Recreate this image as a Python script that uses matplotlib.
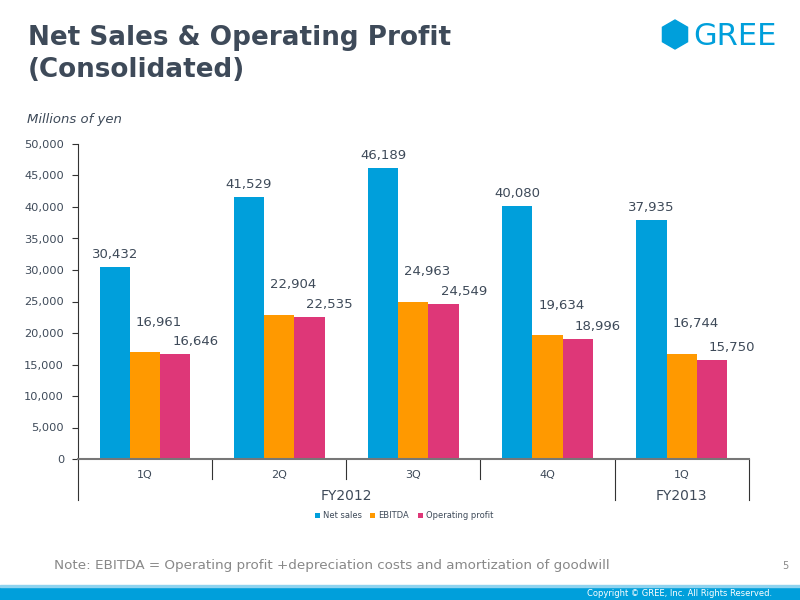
import numpy as np
import matplotlib.pyplot as plt
from matplotlib.patches import Polygon, Rectangle
from matplotlib.ticker import FuncFormatter

# quarterly figures, millions of yen
quarters = ['1Q', '2Q', '3Q', '4Q', '1Q']
years = ['FY2012', 'FY2013']
net_sales = [30432, 41529, 46189, 40080, 37935]
ebitda = [16961, 22904, 24963, 19634, 16744]
op_profit = [16646, 22535, 24549, 18996, 15750]
series_names = ['Net sales', 'EBITDA', 'Operating profit']
colors = ['#009fdb', '#ff9900', '#de3778']

text_col = '#3e4a59'

fig = plt.figure(figsize=(8, 6), dpi=100)
ax = fig.add_axes([0.0975, 0.235, 0.8385, 0.525])

x = np.arange(len(quarters))
w = 0.225
# data-label offsets (points) per series, like the original slide
offsets = [(0, 4.5), (10, 17), (14.5, 4.5)]
for i, (vals, name, c) in enumerate(zip([net_sales, ebitda, op_profit], series_names, colors)):
    xs = x + (i - 1) * w
    ax.bar(xs, vals, w, color=c, label=name)
    for xi, v in zip(xs, vals):
        ax.annotate(f'{v:,}', (xi, v), xytext=offsets[i], textcoords='offset points',
                    ha='center', va='bottom', fontsize=9.5, color=text_col)

ax.set_xlim(-0.5, len(quarters) - 0.5)
ax.set_ylim(0, 50000)
ax.set_yticks(np.arange(0, 50001, 5000))
ax.yaxis.set_major_formatter(FuncFormatter(lambda v, p: f'{int(v):,}'))
ax.tick_params(axis='y', labelsize=8.2, labelcolor=text_col, color='#333333',
               length=4, direction='out', pad=6)
ax.set_xticks([])
for s in ['top', 'right']:
    ax.spines[s].set_visible(False)
ax.spines['left'].set_color('#333333')
ax.spines['bottom'].set_color('#777777')
ax.spines['bottom'].set_linewidth(1.5)

# category axis below the plot
trans = ax.get_xaxis_transform()
for xi, q in zip(x, quarters):
    ax.text(xi, -0.05, q, transform=trans, ha='center', va='center', fontsize=8, color=text_col)
for b in [0.5, 1.5, 2.5]:
    ax.plot([b, b], [0, -0.065], transform=trans, color='#333333', lw=0.8, clip_on=False)
for b in [-0.5, 3.5, 4.5]:
    ax.plot([b, b], [0, -0.13], transform=trans, color='#333333', lw=0.8, clip_on=False)
ax.text(1.5, -0.117, years[0], transform=trans, ha='center', va='center', fontsize=10, color=text_col)
ax.text(4.0, -0.117, years[1], transform=trans, ha='center', va='center', fontsize=10, color=text_col)

ax.legend(loc='center', bbox_to_anchor=(0.486, -0.18), ncol=3, frameon=False,
          fontsize=6, handlelength=0.6, handleheight=0.6, columnspacing=1.0, handletextpad=0.4,
          labelcolor=text_col)

fig.text(0.034, 0.8, 'Millions of yen', ha='left', va='center',
         fontsize=9.5, style='italic', color=text_col)

# title and branding
fig.text(0.035, 1 - 45 / 600, 'Net Sales & Operating Profit', fontsize=18.9,
         fontweight='bold', color=text_col, va='baseline')
fig.text(0.035, 1 - 77 / 600, '(Consolidated)', fontsize=18.9,
         fontweight='bold', color=text_col, va='baseline')

cx, cy, r = 675, 34.5, 14.5
ang = np.deg2rad(90 + 60 * np.arange(6))
hexv = np.column_stack([(cx + r * np.cos(ang)) / 800, 1 - (cy - r * np.sin(ang)) / 600])
fig.patches.append(Polygon(hexv, closed=True, transform=fig.transFigure, color='#009fdb'))
fig.text(0.866, 1 - 45 / 600, 'GREE', fontsize=22, color='#009fdb', va='baseline', ha='left')

fig.text(0.068, 0.057, 'Note: EBITDA = Operating profit +depreciation costs and amortization of goodwill',
         fontsize=9.7, color='#888888', va='center')
fig.text(0.985, 0.057, '5', fontsize=7, color='#888888', va='center', ha='right')
fig.patches.append(Rectangle((0, 0), 1, 0.022, transform=fig.transFigure, color='#009fdb'))
fig.patches.append(Rectangle((0, 0.022), 1, 0.003, transform=fig.transFigure, color='#8fd3ef'))
fig.text(0.965, 0.011, 'Copyright \u00a9 GREE, Inc. All Rights Reserved.', fontsize=6,
         color='white', va='center', ha='right')

fig.savefig('out.png', dpi=100)
